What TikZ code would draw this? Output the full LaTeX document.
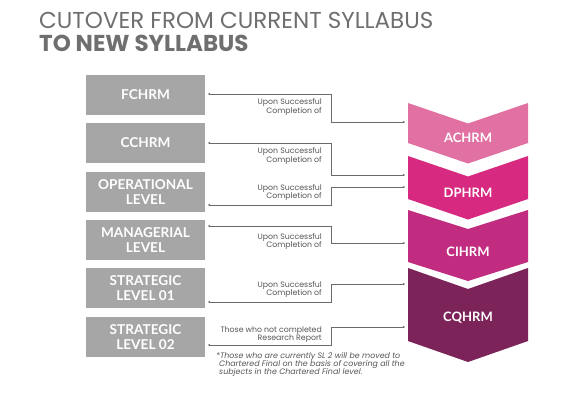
\documentclass[tikz,border=0pt]{standalone}
\usepackage{fontspec}
\setmainfont{Lato}
\newfontfamily\titlefont{Poppins}
\usetikzlibrary{arrows.meta}
\definecolor{boxgrey}{HTML}{A6A6A6}
\definecolor{linegrey}{HTML}{6A6A6A}
\definecolor{titlegrey}{HTML}{6F6F6F}
\definecolor{txtgrey}{HTML}{555555}
\definecolor{achc}{HTML}{E171A3}
\definecolor{dphc}{HTML}{D6297F}
\definecolor{cihc}{HTML}{C12C80}
\definecolor{cqhc}{HTML}{7C2459}
\tikzset{
  lvlbox/.style={fill=boxgrey, minimum width=119pt, minimum height=40pt, inner sep=0pt,
    text=white, font=\bfseries\fontsize{13.6}{14.5}\selectfont, align=center},
  chevlabel/.style={text=white, font=\bfseries\fontsize{13}{15}\selectfont, inner sep=0pt},
  conn/.style={draw=linegrey, line width=0.8pt, {Stealth[length=2.2pt,width=2.4pt]}-{Stealth[length=2.2pt,width=2.4pt]}},
  smalltxt/.style={text=txtgrey, font=\titlefont\fontsize{7.8}{8.6}\selectfont, align=right, anchor=east, inner sep=0pt},
}
\newcommand\chevshape[4]{% color, top, bottom, depth
  \fill[#1] (408,#2) -- (468,#2+#4) -- (528,#2) -- (528,#3) -- (468,#3+#4) -- (408,#3) -- cycle;}
\begin{document}
\begin{tikzpicture}[x=1pt,y=-1pt]
\useasboundingbox (0,0) rectangle (588,416);
\fill[white] (0,0) rectangle (588,416);
% title
\node[anchor=base west, inner sep=0pt, text=titlegrey, font=\titlefont\fontsize{23}{26}\selectfont] (t1) at (39,28) {CUTOVER FROM CURRENT SYLLABUS};
\node[anchor=base west, inner sep=0pt, text=titlegrey, font=\titlefont\bfseries\fontsize{23}{26}\selectfont] (t2) at (39,51) {TO NEW SYLLABUS};
% grey boxes
\node[lvlbox] (fch) at (145.5,95) {FCHRM};
\node[lvlbox] (cch) at (145.5,143) {CCHRM};
\node[lvlbox] (opl) at (145.5,192) {OPERATIONAL\\LEVEL};
\node[lvlbox] (mgl) at (145.5,240) {MANAGERIAL\\LEVEL};
\node[lvlbox] (sl1) at (145.5,288) {STRATEGIC\\LEVEL 01};
\node[lvlbox] (sl2) at (145.5,337) {STRATEGIC\\LEVEL 02};
% chevrons
\chevshape{achc}{103}{143}{20.5}
\chevshape{dphc}{156}{199}{20.5}
\chevshape{cihc}{210}{262}{19}
\chevshape{cqhc}{268}{341}{21}
\node[chevlabel] (ach) at (468,138) {ACHRM};
\node[chevlabel] (dph) at (468,193) {DPHRM};
\node[chevlabel] (cih) at (468,252) {CIHRM};
\node[chevlabel] (cqh) at (468,318) {CQHRM};
% connector end points
\coordinate (fa) at (208,94);   \coordinate (fb) at (405,122);
\coordinate (ca) at (208,143);  \coordinate (cb) at (405,175);
\coordinate (oa) at (208,205);  \coordinate (ob) at (405,187);
\coordinate (ma) at (208,226);  \coordinate (mb) at (405,243);
\coordinate (sa) at (208,302);  \coordinate (sb) at (405,284);
\coordinate (ta) at (208,345);  \coordinate (tb) at (405,327);
\draw[conn] (fa) -- (331,94) -- (331,122) -- (fb);
\draw[conn] (ca) -- (331,143) -- (331,175) -- (cb);
\draw[conn] (oa) -- (331,205) -- (331,187) -- (ob);
\draw[conn] (ma) -- (331,226) -- (331,243) -- (mb);
\draw[conn] (sa) -- (331,302) -- (331,284) -- (sb);
\draw[conn] (ta) -- (331,345) -- (331,327) -- (tb);
% labels
\node[smalltxt] (l1) at (322,107) {Upon Successful\\Completion of};
\node[smalltxt] (l2) at (322,156) {Upon Successful\\Completion of};
\node[smalltxt] (l3) at (322,192.5) {Upon Successful\\Completion of};
\node[smalltxt] (l4) at (322,241.5) {Upon Successful\\Completion of};
\node[smalltxt] (l5) at (322,289.5) {Upon Successful\\Completion of};
\node[smalltxt] (l6) at (322,334.5) {Those who not completed\\Research Report};
\node[anchor=north west, inner sep=0pt, text=txtgrey, align=left, font=\titlefont\itshape\fontsize{7.9}{8.3}\selectfont] (note) at (216,352) {*Those who are currently SL 2 will be moved to\\\hspace*{3pt}Chartered Final on the basis of covering all the\\\hspace*{3pt}subjects in the Chartered Final level.};
\end{tikzpicture}
\end{document}
